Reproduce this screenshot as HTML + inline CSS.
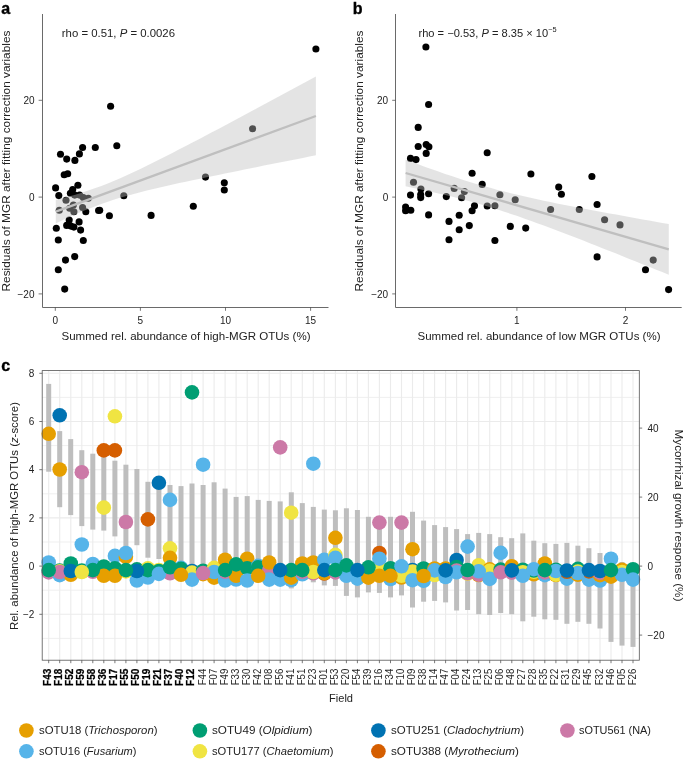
<!DOCTYPE html><html><head><meta charset="utf-8"><title>Figure</title><style>html,body{margin:0;padding:0;background:#fff}</style></head><body><svg width="685" height="759" viewBox="0 0 685 759" style="font-family:'Liberation Sans', sans-serif;display:block">
<rect width="685" height="759" fill="#fff"/>
<g fill="#000"><circle cx="110.6" cy="106.3" r="3.55"/><circle cx="116.8" cy="145.7" r="3.55"/><circle cx="95.3" cy="147.5" r="3.55"/><circle cx="82.6" cy="147.5" r="3.55"/><circle cx="79.4" cy="153.9" r="3.55"/><circle cx="74.9" cy="160.4" r="3.55"/><circle cx="66.7" cy="159.1" r="3.55"/><circle cx="60.5" cy="154.2" r="3.55"/><circle cx="67.7" cy="173.8" r="3.55"/><circle cx="64.2" cy="174.8" r="3.55"/><circle cx="55.6" cy="187.9" r="3.55"/><circle cx="58.8" cy="195.6" r="3.55"/><circle cx="77.9" cy="185.2" r="3.55"/><circle cx="72.7" cy="189.6" r="3.55"/><circle cx="70.4" cy="193.3" r="3.55"/><circle cx="74.7" cy="195.1" r="3.55"/><circle cx="79.6" cy="195.1" r="3.55"/><circle cx="83.3" cy="197.6" r="3.55"/><circle cx="88.3" cy="198.3" r="3.55"/><circle cx="123.8" cy="195.8" r="3.55"/><circle cx="66" cy="200.3" r="3.55"/><circle cx="73.4" cy="205" r="3.55"/><circle cx="59.3" cy="210.2" r="3.55"/><circle cx="69.7" cy="208.2" r="3.55"/><circle cx="73.9" cy="211.7" r="3.55"/><circle cx="82.6" cy="207.5" r="3.55"/><circle cx="85.8" cy="211.7" r="3.55"/><circle cx="98.6" cy="210.5" r="3.55"/><circle cx="99.7" cy="210.3" r="3.55"/><circle cx="109.4" cy="215.7" r="3.55"/><circle cx="151.1" cy="215.4" r="3.55"/><circle cx="193.3" cy="206.3" r="3.55"/><circle cx="69.2" cy="220.1" r="3.55"/><circle cx="79.1" cy="221.9" r="3.55"/><circle cx="66.7" cy="225.4" r="3.55"/><circle cx="70.9" cy="226.1" r="3.55"/><circle cx="73.9" cy="227.1" r="3.55"/><circle cx="56.3" cy="228.3" r="3.55"/><circle cx="80.6" cy="230.1" r="3.55"/><circle cx="58.3" cy="240" r="3.55"/><circle cx="83.3" cy="240.5" r="3.55"/><circle cx="74.7" cy="256.6" r="3.55"/><circle cx="65.5" cy="260.1" r="3.55"/><circle cx="58.3" cy="269.8" r="3.55"/><circle cx="64.7" cy="289.1" r="3.55"/><circle cx="315.9" cy="49" r="3.55"/><circle cx="252.6" cy="128.7" r="3.55"/><circle cx="205.5" cy="177.1" r="3.55"/><circle cx="224.3" cy="182.8" r="3.55"/><circle cx="224.3" cy="190" r="3.55"/></g>
<path d="M55.8,200.0 L62.3,198.3 L68.8,196.6 L75.3,194.7 L81.8,192.7 L88.3,190.6 L94.8,188.3 L101.3,185.9 L107.8,183.4 L114.3,180.7 L120.8,177.9 L127.3,175.0 L133.8,172.0 L140.3,168.9 L146.8,165.8 L153.3,162.6 L159.8,159.3 L166.3,156.0 L172.8,152.7 L179.3,149.3 L185.8,146.0 L192.4,142.6 L198.9,139.2 L205.4,135.8 L211.9,132.3 L218.4,128.9 L224.9,125.4 L231.4,122.0 L237.9,118.5 L244.4,115.0 L250.9,111.6 L257.4,108.1 L263.9,104.6 L270.4,101.1 L276.9,97.6 L283.4,94.1 L289.9,90.6 L296.4,87.1 L302.9,83.6 L309.4,80.1 L315.9,76.6 L315.9,155.3 L309.4,156.6 L302.9,157.9 L296.4,159.2 L289.9,160.5 L283.4,161.8 L276.9,163.0 L270.4,164.3 L263.9,165.6 L257.4,166.9 L250.9,168.3 L244.4,169.6 L237.9,170.9 L231.4,172.2 L224.9,173.5 L218.4,174.9 L211.9,176.2 L205.4,177.6 L198.9,178.9 L192.4,180.3 L185.8,181.7 L179.3,183.1 L172.8,184.6 L166.3,186.0 L159.8,187.5 L153.3,189.1 L146.8,190.6 L140.3,192.3 L133.8,194.0 L127.3,195.7 L120.8,197.6 L114.3,199.6 L107.8,201.7 L101.3,204.0 L94.8,206.4 L88.3,208.9 L81.8,211.6 L75.3,214.4 L68.8,217.3 L62.3,220.3 L55.8,223.4Z" fill="rgba(190,190,190,0.42)"/>
<line x1="55.8" y1="211.7" x2="315.9" y2="116.0" stroke="#bfbfbf" stroke-width="2.3"/>
<path d="M42.5,14 V307.5 H328.5" fill="none" stroke="#6a6a6a" stroke-width="1"/>
<line x1="38.6" x2="42.2" y1="100.3" y2="100.3" stroke="#555" stroke-width="0.8"/>
<line x1="38.6" x2="42.2" y1="197.1" y2="197.1" stroke="#555" stroke-width="0.8"/>
<line x1="38.6" x2="42.2" y1="293.9" y2="293.9" stroke="#555" stroke-width="0.8"/>
<line x1="55.3" x2="55.3" y1="307" y2="310.8" stroke="#555" stroke-width="0.8"/>
<line x1="140.4" x2="140.4" y1="307" y2="310.8" stroke="#555" stroke-width="0.8"/>
<line x1="225.5" x2="225.5" y1="307" y2="310.8" stroke="#555" stroke-width="0.8"/>
<line x1="310.6" x2="310.6" y1="307" y2="310.8" stroke="#555" stroke-width="0.8"/>
<text x="34.5" y="103.89999999999999" font-size="10" fill="#222" text-anchor="end">20</text>
<text x="34.5" y="200.7" font-size="10" fill="#222" text-anchor="end">0</text>
<text x="34.5" y="297.5" font-size="10" fill="#222" text-anchor="end">−20</text>
<text x="55.3" y="323.5" font-size="10" fill="#222" text-anchor="middle">0</text>
<text x="140.4" y="323.5" font-size="10" fill="#222" text-anchor="middle">5</text>
<text x="225.5" y="323.5" font-size="10" fill="#222" text-anchor="middle">10</text>
<text x="310.6" y="323.5" font-size="10" fill="#222" text-anchor="middle">15</text>
<text x="1.2" y="13.8" font-size="16" fill="#000" font-weight="bold" stroke="#000" stroke-width="0.35">a</text>
<text x="61.8" y="36.8" font-size="10.5" fill="#222" textLength="113.2" lengthAdjust="spacingAndGlyphs">rho = 0.51, <tspan font-style="italic">P</tspan> = 0.0026</text>
<text x="61.5" y="340.3" font-size="11" fill="#222" textLength="249" lengthAdjust="spacingAndGlyphs">Summed rel. abundance of high-MGR OTUs (%)</text>
<text x="9.7" y="291.5" font-size="11" fill="#222" textLength="261" lengthAdjust="spacingAndGlyphs" transform="rotate(-90 9.7 291.5)">Residuals of MGR after fitting correction variables</text>
<g fill="#000"><circle cx="425.9" cy="47" r="3.55"/><circle cx="428.6" cy="104.5" r="3.55"/><circle cx="418.2" cy="127.4" r="3.55"/><circle cx="418.2" cy="146.5" r="3.55"/><circle cx="426.2" cy="144.5" r="3.55"/><circle cx="428.9" cy="146.7" r="3.55"/><circle cx="426.2" cy="153.4" r="3.55"/><circle cx="410.5" cy="158.4" r="3.55"/><circle cx="416" cy="159.6" r="3.55"/><circle cx="487.2" cy="152.7" r="3.55"/><circle cx="472.1" cy="173.3" r="3.55"/><circle cx="530.9" cy="174" r="3.55"/><circle cx="413.5" cy="182.2" r="3.55"/><circle cx="420.9" cy="189.1" r="3.55"/><circle cx="410.5" cy="195.1" r="3.55"/><circle cx="420.7" cy="194.6" r="3.55"/><circle cx="420.7" cy="197.6" r="3.55"/><circle cx="428.6" cy="193.8" r="3.55"/><circle cx="446.3" cy="196.6" r="3.55"/><circle cx="454.2" cy="188.4" r="3.55"/><circle cx="464.4" cy="191.6" r="3.55"/><circle cx="461.6" cy="197.8" r="3.55"/><circle cx="482.2" cy="184.4" r="3.55"/><circle cx="499.9" cy="194.8" r="3.55"/><circle cx="515.2" cy="199.8" r="3.55"/><circle cx="494.9" cy="205.8" r="3.55"/><circle cx="487.2" cy="206" r="3.55"/><circle cx="474.5" cy="205.8" r="3.55"/><circle cx="472.1" cy="210.7" r="3.55"/><circle cx="405.6" cy="207" r="3.55"/><circle cx="405.6" cy="210.7" r="3.55"/><circle cx="410.8" cy="210.2" r="3.55"/><circle cx="428.6" cy="214.9" r="3.55"/><circle cx="459.2" cy="215.2" r="3.55"/><circle cx="449" cy="221.4" r="3.55"/><circle cx="469.3" cy="225.6" r="3.55"/><circle cx="459.2" cy="229.8" r="3.55"/><circle cx="510.3" cy="226.4" r="3.55"/><circle cx="525.7" cy="228.1" r="3.55"/><circle cx="449" cy="239.8" r="3.55"/><circle cx="494.9" cy="240.5" r="3.55"/><circle cx="550.6" cy="209.5" r="3.55"/><circle cx="558.7" cy="187.1" r="3.55"/><circle cx="561.4" cy="194.3" r="3.55"/><circle cx="591.9" cy="176.5" r="3.55"/><circle cx="597.1" cy="204.5" r="3.55"/><circle cx="579.3" cy="209.5" r="3.55"/><circle cx="604.6" cy="219.7" r="3.55"/><circle cx="620" cy="224.9" r="3.55"/><circle cx="597.1" cy="256.9" r="3.55"/><circle cx="653.2" cy="260.1" r="3.55"/><circle cx="645.5" cy="269.8" r="3.55"/><circle cx="668.6" cy="289.6" r="3.55"/></g>
<path d="M405.6,159.7 L412.2,162.1 L418.8,164.6 L425.3,167.0 L431.9,169.3 L438.5,171.6 L445.1,173.9 L451.7,176.1 L458.2,178.3 L464.8,180.4 L471.4,182.4 L478.0,184.4 L484.6,186.3 L491.1,188.1 L497.7,189.9 L504.3,191.6 L510.9,193.2 L517.5,194.8 L524.0,196.3 L530.6,197.8 L537.2,199.2 L543.8,200.7 L550.4,202.0 L556.9,203.4 L563.5,204.7 L570.1,206.0 L576.7,207.3 L583.3,208.5 L589.8,209.8 L596.4,211.0 L603.0,212.2 L609.6,213.4 L616.2,214.6 L622.7,215.8 L629.3,217.0 L635.9,218.2 L642.5,219.4 L649.1,220.5 L655.6,221.7 L662.2,222.9 L668.8,224.0 L668.8,274.8 L662.2,272.1 L655.6,269.5 L649.1,266.8 L642.5,264.2 L635.9,261.5 L629.3,258.9 L622.7,256.2 L616.2,253.6 L609.6,251.0 L603.0,248.4 L596.4,245.8 L589.8,243.2 L583.3,240.6 L576.7,238.1 L570.1,235.5 L563.5,233.0 L556.9,230.5 L550.4,228.0 L543.8,225.6 L537.2,223.2 L530.6,220.8 L524.0,218.4 L517.5,216.1 L510.9,213.9 L504.3,211.7 L497.7,209.6 L491.1,207.5 L484.6,205.5 L478.0,203.6 L471.4,201.8 L464.8,200.0 L458.2,198.3 L451.7,196.6 L445.1,195.0 L438.5,193.5 L431.9,192.0 L425.3,190.5 L418.8,189.1 L412.2,187.7 L405.6,186.3Z" fill="rgba(190,190,190,0.42)"/>
<line x1="405.6" y1="173" x2="668.8" y2="249.4" stroke="#bfbfbf" stroke-width="2.3"/>
<path d="M395.5,14 V307.5 H681.7" fill="none" stroke="#6a6a6a" stroke-width="1"/>
<line x1="392.2" x2="395.8" y1="100.3" y2="100.3" stroke="#555" stroke-width="0.8"/>
<line x1="392.2" x2="395.8" y1="197.1" y2="197.1" stroke="#555" stroke-width="0.8"/>
<line x1="392.2" x2="395.8" y1="293.9" y2="293.9" stroke="#555" stroke-width="0.8"/>
<line x1="516.9" x2="516.9" y1="307" y2="310.8" stroke="#555" stroke-width="0.8"/>
<line x1="625.5" x2="625.5" y1="307" y2="310.8" stroke="#555" stroke-width="0.8"/>
<text x="388.2" y="103.89999999999999" font-size="10" fill="#222" text-anchor="end">20</text>
<text x="388.2" y="200.7" font-size="10" fill="#222" text-anchor="end">0</text>
<text x="388.2" y="297.5" font-size="10" fill="#222" text-anchor="end">−20</text>
<text x="516.9" y="323.5" font-size="10" fill="#222" text-anchor="middle">1</text>
<text x="625.5" y="323.5" font-size="10" fill="#222" text-anchor="middle">2</text>
<text x="352.7" y="13.8" font-size="16" fill="#000" font-weight="bold" stroke="#000" stroke-width="0.35">b</text>
<text x="418.5" y="36.8" font-size="10.5" fill="#222" textLength="138" lengthAdjust="spacingAndGlyphs">rho = −0.53, <tspan font-style="italic">P</tspan> = 8.35 × 10<tspan font-size="7" dy="-4.5">−5</tspan></text>
<text x="417.5" y="340.3" font-size="11" fill="#222" textLength="243" lengthAdjust="spacingAndGlyphs">Summed rel. abundance of low MGR OTUs (%)</text>
<text x="362.8" y="291.5" font-size="11" fill="#222" textLength="261" lengthAdjust="spacingAndGlyphs" transform="rotate(-90 362.8 291.5)">Residuals of MGR after fitting correction variables</text>
<g stroke="#ebebeb" stroke-width="1.1">
<line x1="42.2" x2="639.3" y1="397.4" y2="397.4" stroke-width="0.8"/>
<line x1="42.2" x2="639.3" y1="445.6" y2="445.6" stroke-width="0.8"/>
<line x1="42.2" x2="639.3" y1="493.8" y2="493.8" stroke-width="0.8"/>
<line x1="42.2" x2="639.3" y1="542.0" y2="542.0" stroke-width="0.8"/>
<line x1="42.2" x2="639.3" y1="590.2" y2="590.2" stroke-width="0.8"/>
<line x1="42.2" x2="639.3" y1="638.4" y2="638.4" stroke-width="0.8"/>
<line x1="42.2" x2="639.3" y1="373.3" y2="373.3"/>
<line x1="42.2" x2="639.3" y1="421.5" y2="421.5"/>
<line x1="42.2" x2="639.3" y1="469.7" y2="469.7"/>
<line x1="42.2" x2="639.3" y1="517.9" y2="517.9"/>
<line x1="42.2" x2="639.3" y1="566.1" y2="566.1"/>
<line x1="42.2" x2="639.3" y1="614.3" y2="614.3"/>
<line x1="48.7" x2="48.7" y1="370.6" y2="660.2"/>
<line x1="59.7" x2="59.7" y1="370.6" y2="660.2"/>
<line x1="70.8" x2="70.8" y1="370.6" y2="660.2"/>
<line x1="81.8" x2="81.8" y1="370.6" y2="660.2"/>
<line x1="92.8" x2="92.8" y1="370.6" y2="660.2"/>
<line x1="103.8" x2="103.8" y1="370.6" y2="660.2"/>
<line x1="114.9" x2="114.9" y1="370.6" y2="660.2"/>
<line x1="125.9" x2="125.9" y1="370.6" y2="660.2"/>
<line x1="136.9" x2="136.9" y1="370.6" y2="660.2"/>
<line x1="147.9" x2="147.9" y1="370.6" y2="660.2"/>
<line x1="158.9" x2="158.9" y1="370.6" y2="660.2"/>
<line x1="170.0" x2="170.0" y1="370.6" y2="660.2"/>
<line x1="181.0" x2="181.0" y1="370.6" y2="660.2"/>
<line x1="192.0" x2="192.0" y1="370.6" y2="660.2"/>
<line x1="203.1" x2="203.1" y1="370.6" y2="660.2"/>
<line x1="214.1" x2="214.1" y1="370.6" y2="660.2"/>
<line x1="225.1" x2="225.1" y1="370.6" y2="660.2"/>
<line x1="236.1" x2="236.1" y1="370.6" y2="660.2"/>
<line x1="247.2" x2="247.2" y1="370.6" y2="660.2"/>
<line x1="258.2" x2="258.2" y1="370.6" y2="660.2"/>
<line x1="269.2" x2="269.2" y1="370.6" y2="660.2"/>
<line x1="280.2" x2="280.2" y1="370.6" y2="660.2"/>
<line x1="291.2" x2="291.2" y1="370.6" y2="660.2"/>
<line x1="302.3" x2="302.3" y1="370.6" y2="660.2"/>
<line x1="313.3" x2="313.3" y1="370.6" y2="660.2"/>
<line x1="324.3" x2="324.3" y1="370.6" y2="660.2"/>
<line x1="335.4" x2="335.4" y1="370.6" y2="660.2"/>
<line x1="346.4" x2="346.4" y1="370.6" y2="660.2"/>
<line x1="357.4" x2="357.4" y1="370.6" y2="660.2"/>
<line x1="368.4" x2="368.4" y1="370.6" y2="660.2"/>
<line x1="379.4" x2="379.4" y1="370.6" y2="660.2"/>
<line x1="390.5" x2="390.5" y1="370.6" y2="660.2"/>
<line x1="401.5" x2="401.5" y1="370.6" y2="660.2"/>
<line x1="412.5" x2="412.5" y1="370.6" y2="660.2"/>
<line x1="423.6" x2="423.6" y1="370.6" y2="660.2"/>
<line x1="434.6" x2="434.6" y1="370.6" y2="660.2"/>
<line x1="445.6" x2="445.6" y1="370.6" y2="660.2"/>
<line x1="456.6" x2="456.6" y1="370.6" y2="660.2"/>
<line x1="467.6" x2="467.6" y1="370.6" y2="660.2"/>
<line x1="478.7" x2="478.7" y1="370.6" y2="660.2"/>
<line x1="489.7" x2="489.7" y1="370.6" y2="660.2"/>
<line x1="500.7" x2="500.7" y1="370.6" y2="660.2"/>
<line x1="511.8" x2="511.8" y1="370.6" y2="660.2"/>
<line x1="522.8" x2="522.8" y1="370.6" y2="660.2"/>
<line x1="533.8" x2="533.8" y1="370.6" y2="660.2"/>
<line x1="544.8" x2="544.8" y1="370.6" y2="660.2"/>
<line x1="555.9" x2="555.9" y1="370.6" y2="660.2"/>
<line x1="566.9" x2="566.9" y1="370.6" y2="660.2"/>
<line x1="577.9" x2="577.9" y1="370.6" y2="660.2"/>
<line x1="588.9" x2="588.9" y1="370.6" y2="660.2"/>
<line x1="600.0" x2="600.0" y1="370.6" y2="660.2"/>
<line x1="611.0" x2="611.0" y1="370.6" y2="660.2"/>
<line x1="622.0" x2="622.0" y1="370.6" y2="660.2"/>
<line x1="633.0" x2="633.0" y1="370.6" y2="660.2"/>
</g>
<g fill="#bebebe">
<rect x="46.2" y="383.9" width="5" height="87.8"/>
<rect x="57.2" y="431.1" width="5" height="76.1"/>
<rect x="68.2" y="439.1" width="5" height="76.0"/>
<rect x="79.3" y="450.2" width="5" height="75.9"/>
<rect x="90.3" y="453.7" width="5" height="75.9"/>
<rect x="101.3" y="455.4" width="5" height="75.2"/>
<rect x="112.4" y="460.7" width="5" height="75.7"/>
<rect x="123.4" y="464.7" width="5" height="83.3"/>
<rect x="134.4" y="469" width="5" height="76.2"/>
<rect x="145.4" y="481.8" width="5" height="75.9"/>
<rect x="156.4" y="480" width="5" height="79.0"/>
<rect x="167.5" y="485" width="5" height="80.0"/>
<rect x="178.5" y="486.1" width="5" height="83.9"/>
<rect x="189.5" y="483.5" width="5" height="86.5"/>
<rect x="200.6" y="485" width="5" height="85.0"/>
<rect x="211.6" y="482.3" width="5" height="87.7"/>
<rect x="222.6" y="488.6" width="5" height="81.4"/>
<rect x="233.6" y="496.9" width="5" height="73.1"/>
<rect x="244.7" y="496.1" width="5" height="73.9"/>
<rect x="255.7" y="499.9" width="5" height="70.1"/>
<rect x="266.7" y="500.9" width="5" height="71.1"/>
<rect x="277.7" y="501.4" width="5" height="73.6"/>
<rect x="288.8" y="492.3" width="5" height="96.1"/>
<rect x="299.8" y="503.1" width="5" height="76.7"/>
<rect x="310.8" y="506.9" width="5" height="75.4"/>
<rect x="321.8" y="509.6" width="5" height="75.8"/>
<rect x="332.9" y="510.3" width="5" height="75.6"/>
<rect x="343.9" y="508.3" width="5" height="87.6"/>
<rect x="354.9" y="510" width="5" height="87.4"/>
<rect x="365.9" y="516.8" width="5" height="75.6"/>
<rect x="376.9" y="516.3" width="5" height="76.6"/>
<rect x="388.0" y="516.8" width="5" height="80.6"/>
<rect x="399.0" y="516.8" width="5" height="78.6"/>
<rect x="410.0" y="511.8" width="5" height="95.7"/>
<rect x="421.1" y="520.6" width="5" height="81.1"/>
<rect x="432.1" y="525.1" width="5" height="75.8"/>
<rect x="443.1" y="527.1" width="5" height="75.3"/>
<rect x="454.1" y="529.1" width="5" height="81.4"/>
<rect x="465.1" y="534.1" width="5" height="75.9"/>
<rect x="476.2" y="532.9" width="5" height="81.3"/>
<rect x="487.2" y="534.1" width="5" height="80.9"/>
<rect x="498.2" y="537.2" width="5" height="75.8"/>
<rect x="509.2" y="538.2" width="5" height="76.0"/>
<rect x="520.3" y="533.4" width="5" height="87.9"/>
<rect x="531.3" y="540.7" width="5" height="76.0"/>
<rect x="542.3" y="543.2" width="5" height="76.1"/>
<rect x="553.4" y="543.9" width="5" height="75.9"/>
<rect x="564.4" y="542.9" width="5" height="80.9"/>
<rect x="575.4" y="545.7" width="5" height="76.1"/>
<rect x="586.4" y="548.2" width="5" height="75.6"/>
<rect x="597.5" y="553" width="5" height="75.5"/>
<rect x="608.5" y="556" width="5" height="85.9"/>
<rect x="619.5" y="562" width="5" height="83.6"/>
<rect x="630.5" y="565" width="5" height="81.9"/>
</g>
<g>
<circle cx="48.7" cy="562.5" r="7.3" fill="#56B4E9"/>
<circle cx="48.7" cy="572.4" r="7.3" fill="#CC79A7"/>
<circle cx="48.7" cy="433.8" r="7.3" fill="#E69F00"/>
<circle cx="59.7" cy="570.5" r="7.3" fill="#009E73"/>
<circle cx="59.7" cy="575.2" r="7.3" fill="#56B4E9"/>
<circle cx="59.7" cy="571.3" r="7.3" fill="#F0E442"/>
<circle cx="59.7" cy="415.3" r="7.3" fill="#0072B2"/>
<circle cx="59.7" cy="469.5" r="7.3" fill="#E69F00"/>
<circle cx="70.8" cy="563.5" r="7.3" fill="#009E73"/>
<circle cx="70.8" cy="574.8" r="7.3" fill="#E69F00"/>
<circle cx="81.8" cy="544.5" r="7.3" fill="#56B4E9"/>
<circle cx="81.8" cy="570.5" r="7.3" fill="#009E73"/>
<circle cx="81.8" cy="472.2" r="7.3" fill="#CC79A7"/>
<circle cx="92.8" cy="564.0" r="7.3" fill="#56B4E9"/>
<circle cx="92.8" cy="571.8" r="7.3" fill="#CC79A7"/>
<circle cx="103.8" cy="566.5" r="7.3" fill="#009E73"/>
<circle cx="103.8" cy="450.4" r="7.3" fill="#D55E00"/>
<circle cx="103.8" cy="507.6" r="7.3" fill="#F0E442"/>
<circle cx="114.9" cy="555.9" r="7.3" fill="#56B4E9"/>
<circle cx="114.9" cy="568.2" r="7.3" fill="#009E73"/>
<circle cx="114.9" cy="450.4" r="7.3" fill="#D55E00"/>
<circle cx="114.9" cy="416.3" r="7.3" fill="#F0E442"/>
<circle cx="125.9" cy="556.8" r="7.3" fill="#E69F00"/>
<circle cx="125.9" cy="553.0" r="7.3" fill="#56B4E9"/>
<circle cx="125.9" cy="571.4" r="7.3" fill="#F0E442"/>
<circle cx="125.9" cy="522.0" r="7.3" fill="#CC79A7"/>
<circle cx="136.9" cy="569.3" r="7.3" fill="#009E73"/>
<circle cx="136.9" cy="580.5" r="7.3" fill="#56B4E9"/>
<circle cx="147.9" cy="568.4" r="7.3" fill="#F0E442"/>
<circle cx="147.9" cy="572.4" r="7.3" fill="#CC79A7"/>
<circle cx="147.9" cy="577.5" r="7.3" fill="#56B4E9"/>
<circle cx="147.9" cy="519.4" r="7.3" fill="#D55E00"/>
<circle cx="158.9" cy="570.0" r="7.3" fill="#F0E442"/>
<circle cx="158.9" cy="571.0" r="7.3" fill="#009E73"/>
<circle cx="158.9" cy="482.8" r="7.3" fill="#0072B2"/>
<circle cx="170.0" cy="548.3" r="7.3" fill="#F0E442"/>
<circle cx="170.0" cy="557.8" r="7.3" fill="#E69F00"/>
<circle cx="170.0" cy="573.3" r="7.3" fill="#CC79A7"/>
<circle cx="170.0" cy="499.9" r="7.3" fill="#56B4E9"/>
<circle cx="181.0" cy="567.8" r="7.3" fill="#56B4E9"/>
<circle cx="181.0" cy="568.8" r="7.3" fill="#009E73"/>
<circle cx="192.0" cy="571.0" r="7.3" fill="#0072B2"/>
<circle cx="192.0" cy="572.6" r="7.3" fill="#F0E442"/>
<circle cx="192.0" cy="392.4" r="7.3" fill="#009E73"/>
<circle cx="203.1" cy="570.7" r="7.3" fill="#009E73"/>
<circle cx="203.1" cy="574.2" r="7.3" fill="#E69F00"/>
<circle cx="203.1" cy="464.7" r="7.3" fill="#56B4E9"/>
<circle cx="214.1" cy="567.8" r="7.3" fill="#F0E442"/>
<circle cx="214.1" cy="577.7" r="7.3" fill="#E69F00"/>
<circle cx="225.1" cy="559.7" r="7.3" fill="#E69F00"/>
<circle cx="225.1" cy="580.5" r="7.3" fill="#56B4E9"/>
<circle cx="225.1" cy="571.8" r="7.3" fill="#CC79A7"/>
<circle cx="236.1" cy="579.5" r="7.3" fill="#56B4E9"/>
<circle cx="236.1" cy="575.8" r="7.3" fill="#E69F00"/>
<circle cx="247.2" cy="558.7" r="7.3" fill="#E69F00"/>
<circle cx="247.2" cy="568.2" r="7.3" fill="#009E73"/>
<circle cx="258.2" cy="565.9" r="7.3" fill="#56B4E9"/>
<circle cx="258.2" cy="567.3" r="7.3" fill="#009E73"/>
<circle cx="269.2" cy="570.1" r="7.3" fill="#CC79A7"/>
<circle cx="269.2" cy="562.5" r="7.3" fill="#E69F00"/>
<circle cx="280.2" cy="579.6" r="7.3" fill="#56B4E9"/>
<circle cx="280.2" cy="447.4" r="7.3" fill="#CC79A7"/>
<circle cx="291.2" cy="580.0" r="7.3" fill="#56B4E9"/>
<circle cx="291.2" cy="577.7" r="7.3" fill="#E69F00"/>
<circle cx="291.2" cy="512.7" r="7.3" fill="#F0E442"/>
<circle cx="302.3" cy="563.5" r="7.3" fill="#E69F00"/>
<circle cx="302.3" cy="574.3" r="7.3" fill="#56B4E9"/>
<circle cx="302.3" cy="571.8" r="7.3" fill="#CC79A7"/>
<circle cx="313.3" cy="562.5" r="7.3" fill="#E69F00"/>
<circle cx="313.3" cy="573.3" r="7.3" fill="#CC79A7"/>
<circle cx="313.3" cy="463.7" r="7.3" fill="#56B4E9"/>
<circle cx="324.3" cy="559.7" r="7.3" fill="#56B4E9"/>
<circle cx="324.3" cy="573.5" r="7.3" fill="#D55E00"/>
<circle cx="324.3" cy="573.0" r="7.3" fill="#E69F00"/>
<circle cx="335.4" cy="537.8" r="7.3" fill="#E69F00"/>
<circle cx="335.4" cy="554.9" r="7.3" fill="#F0E442"/>
<circle cx="335.4" cy="557.8" r="7.3" fill="#56B4E9"/>
<circle cx="335.4" cy="572.4" r="7.3" fill="#CC79A7"/>
<circle cx="346.4" cy="575.8" r="7.3" fill="#56B4E9"/>
<circle cx="357.4" cy="578.6" r="7.3" fill="#56B4E9"/>
<circle cx="368.4" cy="577.7" r="7.3" fill="#E69F00"/>
<circle cx="379.4" cy="553.0" r="7.3" fill="#D55E00"/>
<circle cx="379.4" cy="568.2" r="7.3" fill="#F0E442"/>
<circle cx="379.4" cy="558.7" r="7.3" fill="#56B4E9"/>
<circle cx="379.4" cy="522.6" r="7.3" fill="#CC79A7"/>
<circle cx="390.5" cy="579.0" r="7.3" fill="#56B4E9"/>
<circle cx="390.5" cy="568.2" r="7.3" fill="#009E73"/>
<circle cx="401.5" cy="577.5" r="7.3" fill="#E69F00"/>
<circle cx="401.5" cy="575.8" r="7.3" fill="#F0E442"/>
<circle cx="401.5" cy="522.6" r="7.3" fill="#CC79A7"/>
<circle cx="412.5" cy="549.2" r="7.3" fill="#E69F00"/>
<circle cx="412.5" cy="570.0" r="7.3" fill="#0072B2"/>
<circle cx="412.5" cy="571.5" r="7.3" fill="#F0E442"/>
<circle cx="423.6" cy="580.8" r="7.3" fill="#56B4E9"/>
<circle cx="423.6" cy="568.5" r="7.3" fill="#009E73"/>
<circle cx="434.6" cy="568.5" r="7.3" fill="#E69F00"/>
<circle cx="434.6" cy="575.0" r="7.3" fill="#F0E442"/>
<circle cx="445.6" cy="568.5" r="7.3" fill="#E69F00"/>
<circle cx="445.6" cy="577.0" r="7.3" fill="#56B4E9"/>
<circle cx="456.6" cy="560.0" r="7.3" fill="#0072B2"/>
<circle cx="456.6" cy="567.0" r="7.3" fill="#009E73"/>
<circle cx="456.6" cy="570.5" r="7.3" fill="#CC79A7"/>
<circle cx="467.6" cy="546.6" r="7.3" fill="#56B4E9"/>
<circle cx="467.6" cy="573.6" r="7.3" fill="#F0E442"/>
<circle cx="467.6" cy="573.2" r="7.3" fill="#CC79A7"/>
<circle cx="478.7" cy="565.2" r="7.3" fill="#F0E442"/>
<circle cx="478.7" cy="575.0" r="7.3" fill="#E69F00"/>
<circle cx="478.7" cy="574.6" r="7.3" fill="#CC79A7"/>
<circle cx="489.7" cy="569.3" r="7.3" fill="#E69F00"/>
<circle cx="489.7" cy="570.9" r="7.3" fill="#F0E442"/>
<circle cx="500.7" cy="552.9" r="7.3" fill="#56B4E9"/>
<circle cx="500.7" cy="569.6" r="7.3" fill="#009E73"/>
<circle cx="511.8" cy="566.2" r="7.3" fill="#E69F00"/>
<circle cx="511.8" cy="572.6" r="7.3" fill="#CC79A7"/>
<circle cx="522.8" cy="569.7" r="7.3" fill="#009E73"/>
<circle cx="522.8" cy="572.2" r="7.3" fill="#F0E442"/>
<circle cx="533.8" cy="574.3" r="7.3" fill="#E69F00"/>
<circle cx="533.8" cy="571.8" r="7.3" fill="#F0E442"/>
<circle cx="533.8" cy="570.5" r="7.3" fill="#009E73"/>
<circle cx="544.8" cy="563.5" r="7.3" fill="#E69F00"/>
<circle cx="544.8" cy="575.2" r="7.3" fill="#56B4E9"/>
<circle cx="544.8" cy="572.4" r="7.3" fill="#CC79A7"/>
<circle cx="555.9" cy="569.7" r="7.3" fill="#009E73"/>
<circle cx="555.9" cy="575.0" r="7.3" fill="#E69F00"/>
<circle cx="555.9" cy="574.6" r="7.3" fill="#F0E442"/>
<circle cx="566.9" cy="578.6" r="7.3" fill="#56B4E9"/>
<circle cx="566.9" cy="571.8" r="7.3" fill="#D55E00"/>
<circle cx="577.9" cy="568.8" r="7.3" fill="#009E73"/>
<circle cx="577.9" cy="571.6" r="7.3" fill="#F0E442"/>
<circle cx="577.9" cy="574.8" r="7.3" fill="#E69F00"/>
<circle cx="588.9" cy="579.6" r="7.3" fill="#56B4E9"/>
<circle cx="588.9" cy="571.4" r="7.3" fill="#D55E00"/>
<circle cx="600.0" cy="580.5" r="7.3" fill="#56B4E9"/>
<circle cx="600.0" cy="575.2" r="7.3" fill="#E69F00"/>
<circle cx="600.0" cy="572.8" r="7.3" fill="#CC79A7"/>
<circle cx="611.0" cy="558.7" r="7.3" fill="#56B4E9"/>
<circle cx="611.0" cy="576.7" r="7.3" fill="#E69F00"/>
<circle cx="622.0" cy="569.7" r="7.3" fill="#E69F00"/>
<circle cx="622.0" cy="572.0" r="7.3" fill="#F0E442"/>
<circle cx="59.7" cy="572.0" r="7.3" fill="#CC79A7"/>
<circle cx="103.8" cy="575.8" r="7.3" fill="#E69F00"/>
<circle cx="114.9" cy="575.8" r="7.3" fill="#E69F00"/>
<circle cx="147.9" cy="570.1" r="7.3" fill="#009E73"/>
<circle cx="192.0" cy="579.6" r="7.3" fill="#56B4E9"/>
<circle cx="214.1" cy="572.0" r="7.3" fill="#56B4E9"/>
<circle cx="247.2" cy="580.5" r="7.3" fill="#56B4E9"/>
<circle cx="269.2" cy="579.6" r="7.3" fill="#56B4E9"/>
<circle cx="291.2" cy="570.1" r="7.3" fill="#009E73"/>
<circle cx="313.3" cy="572.0" r="7.3" fill="#F0E442"/>
<circle cx="346.4" cy="565.4" r="7.3" fill="#009E73"/>
<circle cx="379.4" cy="575.8" r="7.3" fill="#E69F00"/>
<circle cx="412.5" cy="580.2" r="7.3" fill="#56B4E9"/>
<circle cx="434.6" cy="570.4" r="7.3" fill="#56B4E9"/>
<circle cx="456.6" cy="572.3" r="7.3" fill="#56B4E9"/>
<circle cx="489.7" cy="578.9" r="7.3" fill="#56B4E9"/>
<circle cx="522.8" cy="575.8" r="7.3" fill="#56B4E9"/>
<circle cx="533.8" cy="569.2" r="7.3" fill="#56B4E9"/>
<circle cx="555.9" cy="571.0" r="7.3" fill="#56B4E9"/>
<circle cx="577.9" cy="573.0" r="7.3" fill="#56B4E9"/>
<circle cx="600.0" cy="571.0" r="7.3" fill="#0072B2"/>
<circle cx="622.0" cy="574.8" r="7.3" fill="#56B4E9"/>
<circle cx="48.7" cy="570.1" r="7.3" fill="#009E73"/>
<circle cx="70.8" cy="571.0" r="7.3" fill="#0072B2"/>
<circle cx="92.8" cy="570.1" r="7.3" fill="#009E73"/>
<circle cx="136.9" cy="571.0" r="7.3" fill="#0072B2"/>
<circle cx="158.9" cy="573.9" r="7.3" fill="#56B4E9"/>
<circle cx="236.1" cy="564.4" r="7.3" fill="#009E73"/>
<circle cx="324.3" cy="570.1" r="7.3" fill="#0072B2"/>
<circle cx="368.4" cy="567.3" r="7.3" fill="#009E73"/>
<circle cx="401.5" cy="566.3" r="7.3" fill="#56B4E9"/>
<circle cx="478.7" cy="571.3" r="7.3" fill="#56B4E9"/>
<circle cx="500.7" cy="572.3" r="7.3" fill="#CC79A7"/>
<circle cx="633.0" cy="569.2" r="7.3" fill="#009E73"/>
<circle cx="633.0" cy="579.6" r="7.3" fill="#56B4E9"/>
<circle cx="81.8" cy="572.0" r="7.3" fill="#F0E442"/>
<circle cx="125.9" cy="570.1" r="7.3" fill="#009E73"/>
<circle cx="170.0" cy="567.3" r="7.3" fill="#009E73"/>
<circle cx="203.1" cy="573.0" r="7.3" fill="#CC79A7"/>
<circle cx="225.1" cy="570.1" r="7.3" fill="#009E73"/>
<circle cx="258.2" cy="575.8" r="7.3" fill="#E69F00"/>
<circle cx="280.2" cy="570.1" r="7.3" fill="#0072B2"/>
<circle cx="302.3" cy="570.1" r="7.3" fill="#009E73"/>
<circle cx="335.4" cy="570.1" r="7.3" fill="#009E73"/>
<circle cx="357.4" cy="570.1" r="7.3" fill="#0072B2"/>
<circle cx="390.5" cy="575.8" r="7.3" fill="#E69F00"/>
<circle cx="423.6" cy="576.0" r="7.3" fill="#E69F00"/>
<circle cx="445.6" cy="570.4" r="7.3" fill="#0072B2"/>
<circle cx="467.6" cy="570.0" r="7.3" fill="#009E73"/>
<circle cx="511.8" cy="570.4" r="7.3" fill="#0072B2"/>
<circle cx="544.8" cy="570.1" r="7.3" fill="#009E73"/>
<circle cx="566.9" cy="570.5" r="7.3" fill="#0072B2"/>
<circle cx="588.9" cy="570.1" r="7.3" fill="#0072B2"/>
<circle cx="611.0" cy="570.1" r="7.3" fill="#009E73"/>
<circle cx="181.0" cy="574.8" r="7.3" fill="#E69F00"/>
</g>
<rect x="42.2" y="370.6" width="597.1" height="289.6" fill="none" stroke="#555" stroke-width="0.8"/>
<line x1="39.3" x2="42.2" y1="373.3" y2="373.3" stroke="#555" stroke-width="0.8"/>
<text x="34.4" y="376.9" font-size="10" fill="#222" text-anchor="end">8</text>
<line x1="39.3" x2="42.2" y1="421.5" y2="421.5" stroke="#555" stroke-width="0.8"/>
<text x="34.4" y="425.1" font-size="10" fill="#222" text-anchor="end">6</text>
<line x1="39.3" x2="42.2" y1="469.7" y2="469.7" stroke="#555" stroke-width="0.8"/>
<text x="34.4" y="473.3" font-size="10" fill="#222" text-anchor="end">4</text>
<line x1="39.3" x2="42.2" y1="517.9" y2="517.9" stroke="#555" stroke-width="0.8"/>
<text x="34.4" y="521.5" font-size="10" fill="#222" text-anchor="end">2</text>
<line x1="39.3" x2="42.2" y1="566.1" y2="566.1" stroke="#555" stroke-width="0.8"/>
<text x="34.4" y="569.7" font-size="10" fill="#222" text-anchor="end">0</text>
<line x1="39.3" x2="42.2" y1="614.3" y2="614.3" stroke="#555" stroke-width="0.8"/>
<text x="34.4" y="617.9" font-size="10" fill="#222" text-anchor="end">−2</text>
<line x1="639.3" x2="642.1999999999999" y1="428.1" y2="428.1" stroke="#555" stroke-width="0.8"/>
<text x="647.5" y="431.7" font-size="10" fill="#222">40</text>
<line x1="639.3" x2="642.1999999999999" y1="497.1" y2="497.1" stroke="#555" stroke-width="0.8"/>
<text x="647.5" y="500.7" font-size="10" fill="#222">20</text>
<line x1="639.3" x2="642.1999999999999" y1="566.1" y2="566.1" stroke="#555" stroke-width="0.8"/>
<text x="647.5" y="569.7" font-size="10" fill="#222">0</text>
<line x1="639.3" x2="642.1999999999999" y1="635.1" y2="635.1" stroke="#555" stroke-width="0.8"/>
<text x="647.5" y="638.7" font-size="10" fill="#222">−20</text>
<line x1="48.7" x2="48.7" y1="660.2" y2="663.2" stroke="#555" stroke-width="0.8"/>
<text x="51.2" y="668.7" font-size="10" fill="#000" text-anchor="end" font-weight="bold" textLength="17.2" lengthAdjust="spacingAndGlyphs" transform="rotate(-90 51.2 668.7)" stroke="#000" stroke-width="0.25">F43</text>
<line x1="59.7" x2="59.7" y1="660.2" y2="663.2" stroke="#555" stroke-width="0.8"/>
<text x="62.2" y="668.7" font-size="10" fill="#000" text-anchor="end" font-weight="bold" textLength="17.2" lengthAdjust="spacingAndGlyphs" transform="rotate(-90 62.2 668.7)" stroke="#000" stroke-width="0.25">F18</text>
<line x1="70.8" x2="70.8" y1="660.2" y2="663.2" stroke="#555" stroke-width="0.8"/>
<text x="73.2" y="668.7" font-size="10" fill="#000" text-anchor="end" font-weight="bold" textLength="17.2" lengthAdjust="spacingAndGlyphs" transform="rotate(-90 73.2 668.7)" stroke="#000" stroke-width="0.25">F52</text>
<line x1="81.8" x2="81.8" y1="660.2" y2="663.2" stroke="#555" stroke-width="0.8"/>
<text x="84.3" y="668.7" font-size="10" fill="#000" text-anchor="end" font-weight="bold" textLength="17.2" lengthAdjust="spacingAndGlyphs" transform="rotate(-90 84.3 668.7)" stroke="#000" stroke-width="0.25">F59</text>
<line x1="92.8" x2="92.8" y1="660.2" y2="663.2" stroke="#555" stroke-width="0.8"/>
<text x="95.3" y="668.7" font-size="10" fill="#000" text-anchor="end" font-weight="bold" textLength="17.2" lengthAdjust="spacingAndGlyphs" transform="rotate(-90 95.3 668.7)" stroke="#000" stroke-width="0.25">F58</text>
<line x1="103.8" x2="103.8" y1="660.2" y2="663.2" stroke="#555" stroke-width="0.8"/>
<text x="106.3" y="668.7" font-size="10" fill="#000" text-anchor="end" font-weight="bold" textLength="17.2" lengthAdjust="spacingAndGlyphs" transform="rotate(-90 106.3 668.7)" stroke="#000" stroke-width="0.25">F36</text>
<line x1="114.9" x2="114.9" y1="660.2" y2="663.2" stroke="#555" stroke-width="0.8"/>
<text x="117.4" y="668.7" font-size="10" fill="#000" text-anchor="end" font-weight="bold" textLength="17.2" lengthAdjust="spacingAndGlyphs" transform="rotate(-90 117.4 668.7)" stroke="#000" stroke-width="0.25">F17</text>
<line x1="125.9" x2="125.9" y1="660.2" y2="663.2" stroke="#555" stroke-width="0.8"/>
<text x="128.4" y="668.7" font-size="10" fill="#000" text-anchor="end" font-weight="bold" textLength="17.2" lengthAdjust="spacingAndGlyphs" transform="rotate(-90 128.4 668.7)" stroke="#000" stroke-width="0.25">F55</text>
<line x1="136.9" x2="136.9" y1="660.2" y2="663.2" stroke="#555" stroke-width="0.8"/>
<text x="139.4" y="668.7" font-size="10" fill="#000" text-anchor="end" font-weight="bold" textLength="17.2" lengthAdjust="spacingAndGlyphs" transform="rotate(-90 139.4 668.7)" stroke="#000" stroke-width="0.25">F50</text>
<line x1="147.9" x2="147.9" y1="660.2" y2="663.2" stroke="#555" stroke-width="0.8"/>
<text x="150.4" y="668.7" font-size="10" fill="#000" text-anchor="end" font-weight="bold" textLength="17.2" lengthAdjust="spacingAndGlyphs" transform="rotate(-90 150.4 668.7)" stroke="#000" stroke-width="0.25">F19</text>
<line x1="158.9" x2="158.9" y1="660.2" y2="663.2" stroke="#555" stroke-width="0.8"/>
<text x="161.4" y="668.7" font-size="10" fill="#000" text-anchor="end" font-weight="bold" textLength="17.2" lengthAdjust="spacingAndGlyphs" transform="rotate(-90 161.4 668.7)" stroke="#000" stroke-width="0.25">F21</text>
<line x1="170.0" x2="170.0" y1="660.2" y2="663.2" stroke="#555" stroke-width="0.8"/>
<text x="172.5" y="668.7" font-size="10" fill="#000" text-anchor="end" font-weight="bold" textLength="17.2" lengthAdjust="spacingAndGlyphs" transform="rotate(-90 172.5 668.7)" stroke="#000" stroke-width="0.25">F37</text>
<line x1="181.0" x2="181.0" y1="660.2" y2="663.2" stroke="#555" stroke-width="0.8"/>
<text x="183.5" y="668.7" font-size="10" fill="#000" text-anchor="end" font-weight="bold" textLength="17.2" lengthAdjust="spacingAndGlyphs" transform="rotate(-90 183.5 668.7)" stroke="#000" stroke-width="0.25">F40</text>
<line x1="192.0" x2="192.0" y1="660.2" y2="663.2" stroke="#555" stroke-width="0.8"/>
<text x="194.5" y="668.7" font-size="10" fill="#000" text-anchor="end" font-weight="bold" textLength="17.2" lengthAdjust="spacingAndGlyphs" transform="rotate(-90 194.5 668.7)" stroke="#000" stroke-width="0.25">F12</text>
<line x1="203.1" x2="203.1" y1="660.2" y2="663.2" stroke="#555" stroke-width="0.8"/>
<text x="205.7" y="668.7" font-size="10.2" fill="#262626" text-anchor="end" textLength="16.6" lengthAdjust="spacingAndGlyphs" transform="rotate(-90 205.7 668.7)">F44</text>
<line x1="214.1" x2="214.1" y1="660.2" y2="663.2" stroke="#555" stroke-width="0.8"/>
<text x="216.7" y="668.7" font-size="10.2" fill="#262626" text-anchor="end" textLength="16.6" lengthAdjust="spacingAndGlyphs" transform="rotate(-90 216.7 668.7)">F07</text>
<line x1="225.1" x2="225.1" y1="660.2" y2="663.2" stroke="#555" stroke-width="0.8"/>
<text x="227.7" y="668.7" font-size="10.2" fill="#262626" text-anchor="end" textLength="16.6" lengthAdjust="spacingAndGlyphs" transform="rotate(-90 227.7 668.7)">F49</text>
<line x1="236.1" x2="236.1" y1="660.2" y2="663.2" stroke="#555" stroke-width="0.8"/>
<text x="238.7" y="668.7" font-size="10.2" fill="#262626" text-anchor="end" textLength="16.6" lengthAdjust="spacingAndGlyphs" transform="rotate(-90 238.7 668.7)">F33</text>
<line x1="247.2" x2="247.2" y1="660.2" y2="663.2" stroke="#555" stroke-width="0.8"/>
<text x="249.8" y="668.7" font-size="10.2" fill="#262626" text-anchor="end" textLength="16.6" lengthAdjust="spacingAndGlyphs" transform="rotate(-90 249.8 668.7)">F30</text>
<line x1="258.2" x2="258.2" y1="660.2" y2="663.2" stroke="#555" stroke-width="0.8"/>
<text x="260.8" y="668.7" font-size="10.2" fill="#262626" text-anchor="end" textLength="16.6" lengthAdjust="spacingAndGlyphs" transform="rotate(-90 260.8 668.7)">F42</text>
<line x1="269.2" x2="269.2" y1="660.2" y2="663.2" stroke="#555" stroke-width="0.8"/>
<text x="271.8" y="668.7" font-size="10.2" fill="#262626" text-anchor="end" textLength="16.6" lengthAdjust="spacingAndGlyphs" transform="rotate(-90 271.8 668.7)">F08</text>
<line x1="280.2" x2="280.2" y1="660.2" y2="663.2" stroke="#555" stroke-width="0.8"/>
<text x="282.8" y="668.7" font-size="10.2" fill="#262626" text-anchor="end" textLength="16.6" lengthAdjust="spacingAndGlyphs" transform="rotate(-90 282.8 668.7)">F56</text>
<line x1="291.2" x2="291.2" y1="660.2" y2="663.2" stroke="#555" stroke-width="0.8"/>
<text x="293.9" y="668.7" font-size="10.2" fill="#262626" text-anchor="end" textLength="16.6" lengthAdjust="spacingAndGlyphs" transform="rotate(-90 293.9 668.7)">F41</text>
<line x1="302.3" x2="302.3" y1="660.2" y2="663.2" stroke="#555" stroke-width="0.8"/>
<text x="304.9" y="668.7" font-size="10.2" fill="#262626" text-anchor="end" textLength="16.6" lengthAdjust="spacingAndGlyphs" transform="rotate(-90 304.9 668.7)">F51</text>
<line x1="313.3" x2="313.3" y1="660.2" y2="663.2" stroke="#555" stroke-width="0.8"/>
<text x="315.9" y="668.7" font-size="10.2" fill="#262626" text-anchor="end" textLength="16.6" lengthAdjust="spacingAndGlyphs" transform="rotate(-90 315.9 668.7)">F23</text>
<line x1="324.3" x2="324.3" y1="660.2" y2="663.2" stroke="#555" stroke-width="0.8"/>
<text x="326.9" y="668.7" font-size="10.2" fill="#262626" text-anchor="end" textLength="16.6" lengthAdjust="spacingAndGlyphs" transform="rotate(-90 326.9 668.7)">F01</text>
<line x1="335.4" x2="335.4" y1="660.2" y2="663.2" stroke="#555" stroke-width="0.8"/>
<text x="338.0" y="668.7" font-size="10.2" fill="#262626" text-anchor="end" textLength="16.6" lengthAdjust="spacingAndGlyphs" transform="rotate(-90 338.0 668.7)">F53</text>
<line x1="346.4" x2="346.4" y1="660.2" y2="663.2" stroke="#555" stroke-width="0.8"/>
<text x="349.0" y="668.7" font-size="10.2" fill="#262626" text-anchor="end" textLength="16.6" lengthAdjust="spacingAndGlyphs" transform="rotate(-90 349.0 668.7)">F20</text>
<line x1="357.4" x2="357.4" y1="660.2" y2="663.2" stroke="#555" stroke-width="0.8"/>
<text x="360.0" y="668.7" font-size="10.2" fill="#262626" text-anchor="end" textLength="16.6" lengthAdjust="spacingAndGlyphs" transform="rotate(-90 360.0 668.7)">F54</text>
<line x1="368.4" x2="368.4" y1="660.2" y2="663.2" stroke="#555" stroke-width="0.8"/>
<text x="371.0" y="668.7" font-size="10.2" fill="#262626" text-anchor="end" textLength="16.6" lengthAdjust="spacingAndGlyphs" transform="rotate(-90 371.0 668.7)">F39</text>
<line x1="379.4" x2="379.4" y1="660.2" y2="663.2" stroke="#555" stroke-width="0.8"/>
<text x="382.1" y="668.7" font-size="10.2" fill="#262626" text-anchor="end" textLength="16.6" lengthAdjust="spacingAndGlyphs" transform="rotate(-90 382.1 668.7)">F16</text>
<line x1="390.5" x2="390.5" y1="660.2" y2="663.2" stroke="#555" stroke-width="0.8"/>
<text x="393.1" y="668.7" font-size="10.2" fill="#262626" text-anchor="end" textLength="16.6" lengthAdjust="spacingAndGlyphs" transform="rotate(-90 393.1 668.7)">F34</text>
<line x1="401.5" x2="401.5" y1="660.2" y2="663.2" stroke="#555" stroke-width="0.8"/>
<text x="404.1" y="668.7" font-size="10.2" fill="#262626" text-anchor="end" textLength="16.6" lengthAdjust="spacingAndGlyphs" transform="rotate(-90 404.1 668.7)">F10</text>
<line x1="412.5" x2="412.5" y1="660.2" y2="663.2" stroke="#555" stroke-width="0.8"/>
<text x="415.1" y="668.7" font-size="10.2" fill="#262626" text-anchor="end" textLength="16.6" lengthAdjust="spacingAndGlyphs" transform="rotate(-90 415.1 668.7)">F09</text>
<line x1="423.6" x2="423.6" y1="660.2" y2="663.2" stroke="#555" stroke-width="0.8"/>
<text x="426.2" y="668.7" font-size="10.2" fill="#262626" text-anchor="end" textLength="16.6" lengthAdjust="spacingAndGlyphs" transform="rotate(-90 426.2 668.7)">F38</text>
<line x1="434.6" x2="434.6" y1="660.2" y2="663.2" stroke="#555" stroke-width="0.8"/>
<text x="437.2" y="668.7" font-size="10.2" fill="#262626" text-anchor="end" textLength="16.6" lengthAdjust="spacingAndGlyphs" transform="rotate(-90 437.2 668.7)">F14</text>
<line x1="445.6" x2="445.6" y1="660.2" y2="663.2" stroke="#555" stroke-width="0.8"/>
<text x="448.2" y="668.7" font-size="10.2" fill="#262626" text-anchor="end" textLength="16.6" lengthAdjust="spacingAndGlyphs" transform="rotate(-90 448.2 668.7)">F47</text>
<line x1="456.6" x2="456.6" y1="660.2" y2="663.2" stroke="#555" stroke-width="0.8"/>
<text x="459.2" y="668.7" font-size="10.2" fill="#262626" text-anchor="end" textLength="16.6" lengthAdjust="spacingAndGlyphs" transform="rotate(-90 459.2 668.7)">F04</text>
<line x1="467.6" x2="467.6" y1="660.2" y2="663.2" stroke="#555" stroke-width="0.8"/>
<text x="470.2" y="668.7" font-size="10.2" fill="#262626" text-anchor="end" textLength="16.6" lengthAdjust="spacingAndGlyphs" transform="rotate(-90 470.2 668.7)">F24</text>
<line x1="478.7" x2="478.7" y1="660.2" y2="663.2" stroke="#555" stroke-width="0.8"/>
<text x="481.3" y="668.7" font-size="10.2" fill="#262626" text-anchor="end" textLength="16.6" lengthAdjust="spacingAndGlyphs" transform="rotate(-90 481.3 668.7)">F13</text>
<line x1="489.7" x2="489.7" y1="660.2" y2="663.2" stroke="#555" stroke-width="0.8"/>
<text x="492.3" y="668.7" font-size="10.2" fill="#262626" text-anchor="end" textLength="16.6" lengthAdjust="spacingAndGlyphs" transform="rotate(-90 492.3 668.7)">F25</text>
<line x1="500.7" x2="500.7" y1="660.2" y2="663.2" stroke="#555" stroke-width="0.8"/>
<text x="503.3" y="668.7" font-size="10.2" fill="#262626" text-anchor="end" textLength="16.6" lengthAdjust="spacingAndGlyphs" transform="rotate(-90 503.3 668.7)">F06</text>
<line x1="511.8" x2="511.8" y1="660.2" y2="663.2" stroke="#555" stroke-width="0.8"/>
<text x="514.4" y="668.7" font-size="10.2" fill="#262626" text-anchor="end" textLength="16.6" lengthAdjust="spacingAndGlyphs" transform="rotate(-90 514.4 668.7)">F48</text>
<line x1="522.8" x2="522.8" y1="660.2" y2="663.2" stroke="#555" stroke-width="0.8"/>
<text x="525.4" y="668.7" font-size="10.2" fill="#262626" text-anchor="end" textLength="16.6" lengthAdjust="spacingAndGlyphs" transform="rotate(-90 525.4 668.7)">F27</text>
<line x1="533.8" x2="533.8" y1="660.2" y2="663.2" stroke="#555" stroke-width="0.8"/>
<text x="536.4" y="668.7" font-size="10.2" fill="#262626" text-anchor="end" textLength="16.6" lengthAdjust="spacingAndGlyphs" transform="rotate(-90 536.4 668.7)">F28</text>
<line x1="544.8" x2="544.8" y1="660.2" y2="663.2" stroke="#555" stroke-width="0.8"/>
<text x="547.4" y="668.7" font-size="10.2" fill="#262626" text-anchor="end" textLength="16.6" lengthAdjust="spacingAndGlyphs" transform="rotate(-90 547.4 668.7)">F35</text>
<line x1="555.9" x2="555.9" y1="660.2" y2="663.2" stroke="#555" stroke-width="0.8"/>
<text x="558.5" y="668.7" font-size="10.2" fill="#262626" text-anchor="end" textLength="16.6" lengthAdjust="spacingAndGlyphs" transform="rotate(-90 558.5 668.7)">F22</text>
<line x1="566.9" x2="566.9" y1="660.2" y2="663.2" stroke="#555" stroke-width="0.8"/>
<text x="569.5" y="668.7" font-size="10.2" fill="#262626" text-anchor="end" textLength="16.6" lengthAdjust="spacingAndGlyphs" transform="rotate(-90 569.5 668.7)">F31</text>
<line x1="577.9" x2="577.9" y1="660.2" y2="663.2" stroke="#555" stroke-width="0.8"/>
<text x="580.5" y="668.7" font-size="10.2" fill="#262626" text-anchor="end" textLength="16.6" lengthAdjust="spacingAndGlyphs" transform="rotate(-90 580.5 668.7)">F29</text>
<line x1="588.9" x2="588.9" y1="660.2" y2="663.2" stroke="#555" stroke-width="0.8"/>
<text x="591.5" y="668.7" font-size="10.2" fill="#262626" text-anchor="end" textLength="16.6" lengthAdjust="spacingAndGlyphs" transform="rotate(-90 591.5 668.7)">F45</text>
<line x1="600.0" x2="600.0" y1="660.2" y2="663.2" stroke="#555" stroke-width="0.8"/>
<text x="602.6" y="668.7" font-size="10.2" fill="#262626" text-anchor="end" textLength="16.6" lengthAdjust="spacingAndGlyphs" transform="rotate(-90 602.6 668.7)">F32</text>
<line x1="611.0" x2="611.0" y1="660.2" y2="663.2" stroke="#555" stroke-width="0.8"/>
<text x="613.6" y="668.7" font-size="10.2" fill="#262626" text-anchor="end" textLength="16.6" lengthAdjust="spacingAndGlyphs" transform="rotate(-90 613.6 668.7)">F46</text>
<line x1="622.0" x2="622.0" y1="660.2" y2="663.2" stroke="#555" stroke-width="0.8"/>
<text x="624.6" y="668.7" font-size="10.2" fill="#262626" text-anchor="end" textLength="16.6" lengthAdjust="spacingAndGlyphs" transform="rotate(-90 624.6 668.7)">F05</text>
<line x1="633.0" x2="633.0" y1="660.2" y2="663.2" stroke="#555" stroke-width="0.8"/>
<text x="635.6" y="668.7" font-size="10.2" fill="#262626" text-anchor="end" textLength="16.6" lengthAdjust="spacingAndGlyphs" transform="rotate(-90 635.6 668.7)">F26</text>
<text x="1.2" y="370.6" font-size="16" fill="#000" font-weight="bold" stroke="#000" stroke-width="0.35">c</text>
<text x="341" y="702" font-size="11" fill="#222" text-anchor="middle" textLength="24" lengthAdjust="spacingAndGlyphs">Field</text>
<text x="17.8" y="630" font-size="11" fill="#222" textLength="228" lengthAdjust="spacingAndGlyphs" transform="rotate(-90 17.8 630)">Rel. abundance of high-MGR OTUs (<tspan font-style="italic">z</tspan>-score)</text>
<text x="674.5" y="429.5" font-size="11" fill="#222" textLength="172" lengthAdjust="spacingAndGlyphs" transform="rotate(90 674.5 429.5)">Mycorrhizal growth response (%)</text>
<circle cx="26.4" cy="730.5" r="7.3" fill="#E69F00"/>
<text x="39" y="734.3" font-size="10.5" fill="#222" textLength="118.5" lengthAdjust="spacingAndGlyphs">sOTU18 (<tspan font-style="italic">Trichosporon</tspan>)</text>
<circle cx="26.4" cy="751.3" r="7.3" fill="#56B4E9"/>
<text x="39" y="755.0999999999999" font-size="10.5" fill="#222" textLength="97.5" lengthAdjust="spacingAndGlyphs">sOTU16 (<tspan font-style="italic">Fusarium</tspan>)</text>
<circle cx="199.9" cy="730.5" r="7.3" fill="#009E73"/>
<text x="212" y="734.3" font-size="10.5" fill="#222" textLength="100.5" lengthAdjust="spacingAndGlyphs">sOTU49 (<tspan font-style="italic">Olpidium</tspan>)</text>
<circle cx="199.9" cy="751.3" r="7.3" fill="#F0E442"/>
<text x="212" y="755.0999999999999" font-size="10.5" fill="#222" textLength="121.5" lengthAdjust="spacingAndGlyphs">sOTU177 (<tspan font-style="italic">Chaetomium</tspan>)</text>
<circle cx="378.4" cy="730.5" r="7.3" fill="#0072B2"/>
<text x="391" y="734.3" font-size="10.5" fill="#222" textLength="133" lengthAdjust="spacingAndGlyphs">sOTU251 (<tspan font-style="italic">Cladochytrium</tspan>)</text>
<circle cx="378.4" cy="751.3" r="7.3" fill="#D55E00"/>
<text x="391" y="755.0999999999999" font-size="10.5" fill="#222" textLength="128" lengthAdjust="spacingAndGlyphs">sOTU388 (<tspan font-style="italic">Myrothecium</tspan>)</text>
<circle cx="567.4" cy="730.5" r="7.3" fill="#CC79A7"/>
<text x="579" y="734.3" font-size="10.5" fill="#222" textLength="72" lengthAdjust="spacingAndGlyphs">sOTU561 (NA)</text>
</svg></body></html>
